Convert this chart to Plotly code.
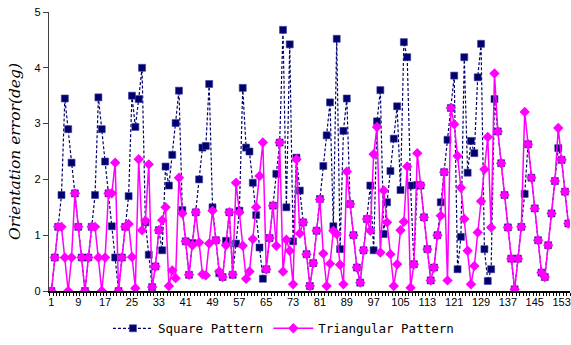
import plotly.graph_objects as go

samples = list(range(1, 156))

square_pattern = [
    0, 0.6, 1.15, 1.72, 3.45, 2.9, 2.3, 1.75, 1.15, 0.6,
    0, 0.6, 1.15, 1.72, 3.47, 2.9, 2.32, 1.75, 1.16, 0.6,
    0, 0.6, 1.15, 1.7, 3.5, 2.94, 3.44, 4.0, 1.23, 0.65,
    0.07, 0.44, 1.09, 0.73, 2.23, 1.89, 2.44, 3.01, 3.59, 1.45,
    0.89, 0.29, 0.86, 1.41, 2.0, 2.57, 2.6, 3.71, 1.5, 0.91,
    0.32, 0.25, 0.9, 1.41, 0.29, 0.85, 1.44, 3.64, 2.57, 2.5,
    1.94, 1.36, 0.78, 0.22, 0.39, 0.95, 1.53, 2.1, 2.66, 4.68,
    1.5, 4.42, 0.89, 2.39, 1.8, 1.23, 0.66, 0.09, 0.5, 1.08,
    1.65, 2.24, 2.79, 3.38, 1.16, 4.52, 0.75, 2.87, 3.45, 1.56,
    1.0, 0.42, 0.15, 0.73, 1.29, 1.89, 0.73, 3.04, 3.6, 1.02,
    1.59, 2.15, 2.73, 3.31, 1.81,
    4.46, 4.19, 1.89, 0.48, 1.9, 1.89, 1.32, 0.75, 0.19, 0.42,
    1.0, 1.59, 2.13, 2.71, 3.28, 3.86, 0.39, 0.97, 4.19, 2.12,
    2.69, 2.47, 3.83, 4.43, 0.75, 0.18, 0.39, 3.44, 2.86, 2.29,
    1.72, 1.14, 0.58, 0.03, 0.58, 1.15, 1.74, 2.63, 2.03, 1.48,
    0.91, 0.33, 0.25, 0.82, 1.39, 1.97, 2.56, 2.35, 1.78, 1.21,
]

triangular_pattern = [
    0, 0.6, 1.15, 1.15, 0.6, 0, 0.6, 1.75, 1.15, 0.6,
    0, 0.6, 1.15, 1.15, 0.6, 0, 0.6, 1.75, 1.75, 2.3,
    0, 0.6, 1.15, 1.2, 0.61, 0.05, 2.36, 1.09, 1.26, 2.27,
    0.07, 0.44, 1.09, 1.27, 1.5, 0.09, 0.37, 0.23, 2.03, 1.39,
    0.89, 0.29, 0.82, 1.41, 0.87, 0.3, 0.28, 0.85, 1.44, 0.91,
    0.35, 0.25, 0.82, 1.41, 0.3, 1.94, 1.41, 0.81, 0.22, 0.35,
    0.93, 1.5, 2.06, 2.66, 0.39, 0.95, 1.53, 0.81, 2.66, 0.35,
    0.92, 0.72, 0.12, 2.36, 1.03, 1.23, 0.66, 0.09, 0.5, 1.08,
    1.64, 0.67, 0.09, 0.49, 1.08, 1.02, 0.47, 0.12, 2.14, 1.56,
    1.0, 0.42, 0.15, 0.73, 1.29, 1.08, 2.45, 2.94, 0.69, 1.8,
    1.23, 0.66, 0.09, 0.48, 1.09,
    1.24, 2.23, 0.06, 0.48, 2.47, 1.9, 1.32, 0.75, 0.19, 0.42,
    1.0, 1.35, 2.13, 0.19, 3.28, 2.99, 2.42, 1.85, 1.29, 0.72,
    0.12, 0.45, 1.05, 1.61, 2.18, 2.76, 1.14, 3.9, 2.86, 2.29,
    1.72, 1.14, 0.58, 0.03, 0.58, 1.15, 3.21, 2.63, 2.03, 1.48,
    0.91, 0.33, 0.25, 0.82, 1.39, 1.97, 2.92, 2.35, 1.78, 1.21,
]

x_tick_values = list(range(1, 156, 8))
x_tick_labels = [str(v) for v in x_tick_values]
y_tick_values = [0, 1, 2, 3, 4, 5]

navy = "#00006e"
magenta = "#ff00ff"

fig = go.Figure()
fig.add_trace(go.Scatter(
    x=samples, y=square_pattern, name="Square Pattern", mode="lines+markers",
    line=dict(color=navy, width=1.2, dash="3px,2px"),
    marker=dict(symbol="square", size=7, color=navy, line=dict(color="#3a3aa0", width=0.6)),
))
fig.add_trace(go.Scatter(
    x=samples, y=triangular_pattern, name="Triangular Pattern", mode="lines+markers",
    line=dict(color=magenta, width=1.5),
    marker=dict(symbol="diamond", size=8, color=magenta, line=dict(width=0)),
))

fig.update_layout(
    width=571, height=345,
    margin=dict(l=49, r=1, t=12, b=54, autoexpand=False),
    plot_bgcolor="white", paper_bgcolor="white",
    showlegend=True,
    legend=dict(orientation="h", x=0.45, xanchor="center", y=-0.135, yanchor="middle",
                font=dict(family="DejaVu Sans Mono", size=12.5, color="black"),
                itemwidth=40, tracegroupgap=0),
    xaxis=dict(
        range=[0.28, 155.5], tickmode="array", tickvals=x_tick_values, ticktext=x_tick_labels,
        ticks="", showgrid=False, zeroline=False, showline=True, linecolor="black", linewidth=1.5,
        automargin=False,
        tickfont=dict(family="Liberation Sans", size=11, color="black"),
        minor=dict(ticks="outside", ticklen=3, tickcolor="black", dtick=1, tick0=0.5, showgrid=False),
    ),
    yaxis=dict(
        range=[0, 5], tickvals=y_tick_values, ticks="outside", ticklen=5, tickcolor="#404040",
        showgrid=False, zeroline=False, showline=True, linecolor="#404040", linewidth=1.2,
        automargin=False,
        tickfont=dict(family="Liberation Sans", size=11, color="black"),
        title=dict(text="<i>Orientation error(deg)</i>", standoff=10,
                   font=dict(family="DejaVu Serif", size=15.5, color="black")),
    ),
)

fig.write_html("out.html", config={"displayModeBar": False},
               post_script="document.body.style.margin='0px';")
